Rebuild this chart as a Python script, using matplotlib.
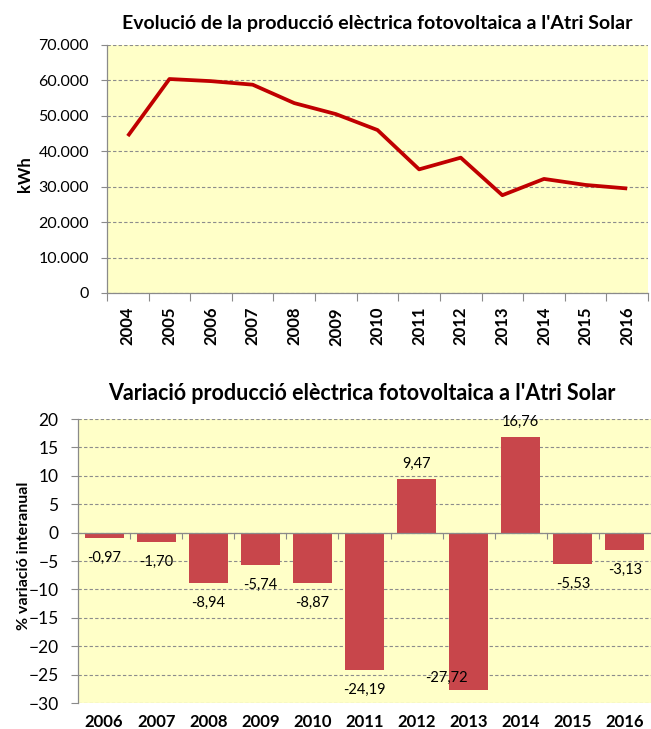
import numpy as np
import matplotlib
matplotlib.use("Agg")
import matplotlib.pyplot as plt
from matplotlib.ticker import FuncFormatter, FixedLocator

plt.rcParams['font.family'] = ['Lato', 'DejaVu Sans']

years_prod = ['2004', '2005', '2006', '2007', '2008', '2009', '2010', '2011', '2012', '2013', '2014', '2015', '2016']
production = [44300, 60400, 59800, 58800, 53600, 50500, 46000, 34900, 38200, 27600, 32200, 30500, 29500]

years_var = ['2006', '2007', '2008', '2009', '2010', '2011', '2012', '2013', '2014', '2015', '2016']
variation = [-0.97, -1.70, -8.94, -5.74, -8.87, -24.19, 9.47, -27.72, 16.76, -5.53, -3.13]

title_top = "Evolució de la producció elèctrica fotovoltaica a l'Atri Solar"
title_bot = "Variació producció elèctrica fotovoltaica a l'Atri Solar"

BG = '#FFFFC8'
GRID = '#8C8C8C'
SPINE = '#8A8A8A'
LINE = '#C00000'
BAR = '#C8464B'

fig = plt.figure(figsize=(6.51, 7.29), dpi=100)

# ---------- top chart ----------
ax1 = fig.add_axes([107/651, 1-293/729, (648-107)/651, (293-45)/729])
ax1.set_facecolor(BG)
x1 = np.arange(len(years_prod))
ax1.plot(x1, production, color=LINE, lw=2.7, solid_joinstyle='round', solid_capstyle='butt', zorder=3)
ax1.set_xlim(-0.5, len(years_prod) - 0.5)
ax1.set_ylim(0, 70000)
ax1.set_yticks(np.arange(0, 70001, 10000))
ax1.yaxis.set_major_formatter(FuncFormatter(lambda v, p: f"{int(v):,}".replace(',', '.')))
ax1.set_xticks(x1)
ax1.set_xticklabels(years_prod, rotation=90, fontweight='bold', fontsize=12)
ax1.xaxis.set_minor_locator(FixedLocator(np.arange(-0.5, len(years_prod), 1.0)))
ax1.tick_params(axis='x', which='major', length=0, pad=10)
ax1.tick_params(axis='x', which='minor', length=6, color=SPINE, width=0.8)
ax1.tick_params(axis='y', length=4, color=SPINE, width=0.8, labelsize=11.5, pad=9)
ax1.grid(axis='y', color=GRID, linestyle=(0, (3, 2)), lw=0.8)
ax1.set_axisbelow(True)
for s in ['top', 'right']:
    ax1.spines[s].set_visible(False)
for s in ['left', 'bottom']:
    ax1.spines[s].set_color(SPINE)
    ax1.spines[s].set_linewidth(0.9)
ax1.set_ylabel('kWh', fontweight='bold', fontsize=12)
ax1.yaxis.set_label_coords((33-107)/541, 0.48)
fig.text((107+648)/2/651, 1-23/729, title_top, ha='center', va='center', fontsize=14, fontweight='bold')

# ---------- bottom chart ----------
ax2 = fig.add_axes([78/651, 1-703/729, (651-78)/651, (703-419)/729])
ax2.set_facecolor(BG)
x2 = np.arange(len(years_var))
ax2.bar(x2, variation, width=0.75, color=BAR, zorder=2)
ax2.set_xlim(-0.5, len(years_var) - 0.5)
ax2.set_ylim(-30, 20)
ax2.set_yticks(np.arange(-30, 21, 5))
ax2.tick_params(axis='y', length=5, color=SPINE, width=0.8, labelsize=12.5, pad=9)
ax2.grid(axis='y', color=GRID, linestyle=(0, (3, 2)), lw=0.8)
ax2.set_axisbelow(True)
ax2.spines['bottom'].set_position(('data', 0))
for s in ['top', 'right']:
    ax2.spines[s].set_visible(False)
for s in ['left', 'bottom']:
    ax2.spines[s].set_color(SPINE)
    ax2.spines[s].set_linewidth(0.9)
ax2.set_xticks([])
ax2.xaxis.set_minor_locator(FixedLocator(np.arange(0.5, len(years_var) - 0.5, 1.0)))
ax2.tick_params(axis='x', which='minor', length=4, color=SPINE, width=0.8)
sec = ax2.secondary_xaxis('bottom')
sec.set_xticks(x2)
sec.set_xticklabels(years_var, fontweight='bold', fontsize=12)
sec.tick_params(length=0, pad=8)
sec.spines['bottom'].set_visible(False)

for xi, v in zip(x2, variation):
    lab = f"{v:.2f}".replace('.', ',')
    if v == min(variation):
        ax2.annotate(lab, (xi, v), xytext=(-16, 9), textcoords='offset points',
                     ha='center', va='center', fontsize=10.5)
    elif v >= 0:
        ax2.annotate(lab, (xi, v), xytext=(0, 11), textcoords='offset points',
                     ha='center', va='center', fontsize=10.5)
    else:
        ax2.annotate(lab, (xi, v), xytext=(0, -14), textcoords='offset points',
                     ha='center', va='center', fontsize=10.5)

ax2.set_ylabel('% variació interanual', fontweight='bold', fontsize=11.5)
ax2.yaxis.set_label_coords((31-78)/573, 0.52)
fig.text(362/651, 1-394/729, title_bot, ha='center', va='center', fontsize=15.5, fontweight='bold')

fig.savefig('out.png', dpi=100)
